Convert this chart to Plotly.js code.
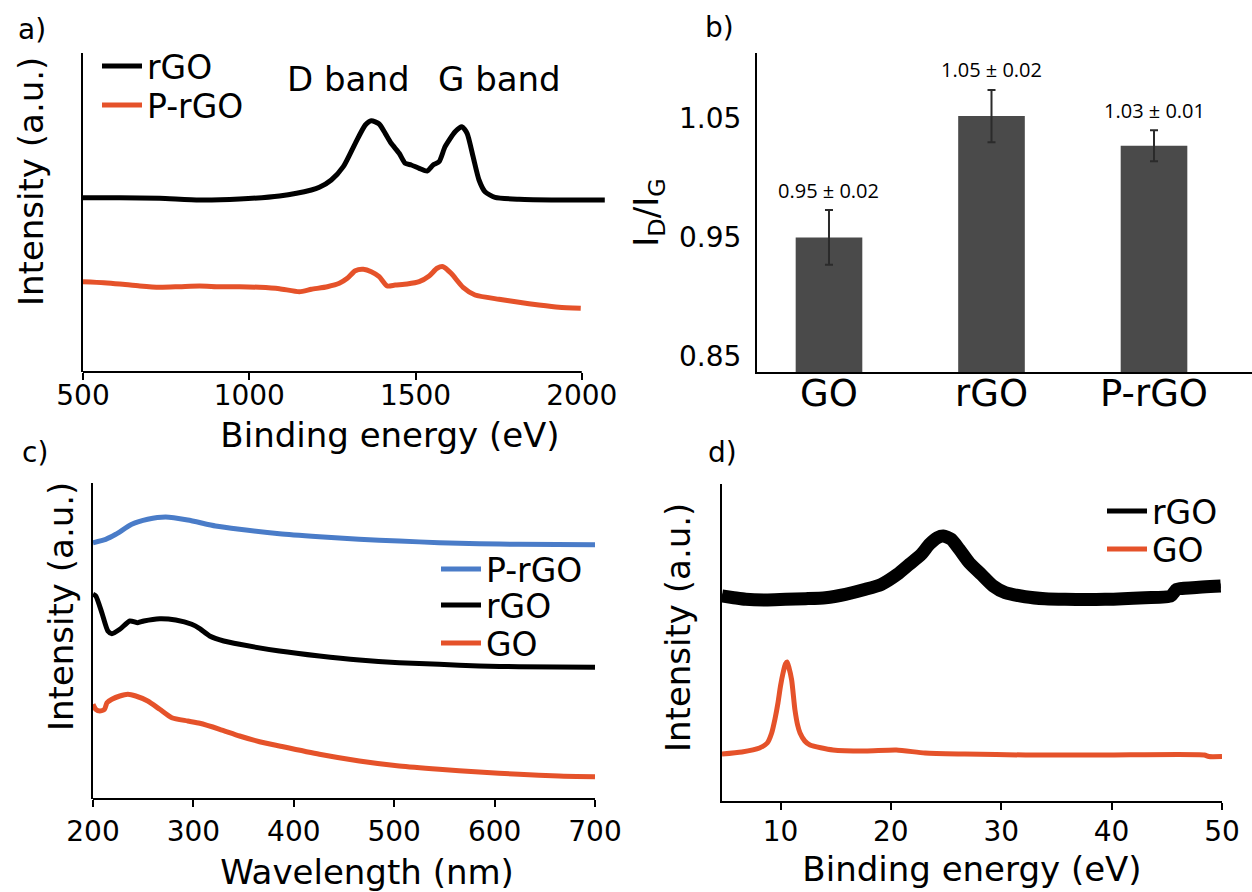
<!DOCTYPE html>
<html>
<head>
<meta charset="utf-8">
<script src="https://cdn.plot.ly/plotly-3.0.1.min.js"></script>
<style>html,body{margin:0;padding:0;background:#fff;}#chart{width:1252px;height:892px;}</style>
</head>
<body>
<div id="chart"></div>
<script>
// ---------- Panel a: Raman spectra ----------
const aEnergyRGO = [500, 610.6, 730.6, 850.7, 970.7, 1090.8, 1186.9, 1210.9, 1246.8, 1282.9, 1318.9, 1349.0, 1367.0, 1390.8, 1408.9, 1426.9, 1451.0, 1469.0, 1487.1, 1511.1, 1534.9, 1553.0, 1571.0, 1589.0, 1619.1, 1639.5, 1655.2, 1673.2, 1691.0, 1709.0, 1739.1, 1811.3, 1931.3, 1991.1, 2069.3];
const aIntRGO = [174.3, 174.3, 173.7, 172, 173, 176, 182, 184.7, 192, 205.3, 228.7, 247, 251.3, 248, 238.7, 228.7, 218.7, 208.7, 207, 203.7, 201, 207, 210.3, 225.3, 240.3, 245.3, 238.7, 215.3, 192, 180.3, 174.7, 172.7, 172, 172, 172];
const aEnergyPRGO = [500, 562.4, 610.6, 670.6, 730.6, 790.6, 850.7, 910.7, 970.7, 1030.8, 1090.8, 1150.8, 1186.9, 1234.9, 1270.8, 1294.9, 1318.9, 1343.0, 1367.0, 1390.8, 1414.9, 1438.9, 1475.0, 1511.1, 1541.0, 1565.0, 1583.0, 1607.1, 1643.0, 1679.0, 1751.1, 1811.3, 1871.1, 1931.3, 1997];
const aIntPRGO = [90.3, 89.3, 88, 86, 84.7, 85.3, 86, 85.3, 85.3, 84.7, 83.3, 80.3, 82.7, 85.3, 88.7, 93.7, 101.3, 102.7, 100.3, 95.3, 86, 87, 88, 90.3, 96, 103.7, 105.3, 98.7, 84.7, 77, 72.7, 69.7, 67, 64.7, 63.7];
const aTicks = [500, 1000, 1500, 2000];

// ---------- Panel b: ID/IG ratio ----------
const bCategories = ['GO', 'rGO', 'P-rGO'];
const bRatio = [0.95, 1.052, 1.027];
const bError = [0.023, 0.022, 0.013];
const bLabels = ['0.95 ± 0.02', '1.05 ± 0.02', '1.03 ± 0.01'];
const bTicks = [0.85, 0.95, 1.05];

// ---------- Panel c: UV-vis ----------
const cWavePRGO = [200, 212.7, 222.7, 238.6, 254.5, 272.4, 294.3, 322, 346, 385.7, 425.5, 465, 505, 544.7, 584.5, 624, 700];
const cIntPRGO = [256.3, 259.7, 264.7, 274.7, 279.7, 282, 279, 273, 269.7, 265.3, 262.3, 259.7, 258, 256.3, 255.3, 254.7, 254.3];
const cWaveRGO = [200, 202.8, 208.8, 214.8, 218.8, 226.7, 236.7, 244.6, 250.6, 266.5, 282.4, 298.3, 306.3, 316.2, 330.2, 346, 385.7, 425.5, 465.3, 505, 544.8, 584.5, 624.3, 700];
const cIntRGO = [204.7, 203, 186.3, 168, 165.3, 169.7, 178, 176.3, 178, 180.3, 179, 174.7, 170.3, 163, 158, 154.7, 148, 143, 139, 136.3, 134.7, 133, 132.3, 131.7];
const cWaveGO = [200, 202.8, 206.8, 211.5, 213.9, 218.8, 226.7, 234.7, 242.6, 254.5, 266.5, 278.5, 294.3, 306.3, 326.2, 346, 365.9, 385.7, 425.5, 465.3, 505, 544.8, 584.5, 624.3, 664, 700];
const cIntGO = [94.7, 89.7, 88, 89.7, 96.3, 99.7, 103, 104.7, 103, 98, 89.7, 81.3, 78, 75.7, 69.7, 63, 57.3, 53, 44.7, 38, 33, 29.7, 27, 24.7, 23, 22.3];
const cTicks = [200, 300, 400, 500, 600, 700];

// ---------- Panel d: binding energy ----------
const dEnergyRGO = [4.7, 5.77, 6.85, 8.66, 10.47, 12.28, 14.08, 15.89, 17.7, 19.15, 20.59, 21.68, 22.76, 23.49, 24.21, 24.75, 25.47, 26.2, 27.1, 28.19, 29.27, 30.36, 32.16, 33.97, 35.78, 39.4, 43.01, 45.36, 45.9, 47.35, 49.88];
const dIntRGO = [205, 203.3, 201.7, 201, 201.7, 202.3, 203.3, 206.7, 211.7, 216.7, 226.7, 236.7, 246.7, 256.7, 263.3, 265, 261.7, 251.7, 238.3, 226.7, 215, 208.3, 204.3, 202.3, 201.7, 201.7, 203.3, 205, 211.7, 213.3, 215];
const dEnergyGO = [4.7, 6.5, 8.1, 8.8, 9.2, 9.5, 9.77, 10.0, 10.23, 10.45, 10.6, 10.75, 11.01, 11.31, 11.55, 11.77, 12.2, 12.67, 14.75, 17.7, 20.5, 23.1, 26.7, 32.2, 39.4, 48.4, 48.8, 50];
const dIntGO = [47, 49, 53, 58, 68, 82, 98, 115, 128, 137, 139, 134, 121, 91, 76, 68, 60, 56, 51, 50, 51, 48, 47, 46, 46, 46, 44.5, 44.5];
const dTicks = [10, 20, 30, 40, 50];

// ---------- colours ----------
const BLACK = '#000000';
const ORANGE = '#e5522a';
const BLUE = '#4a7cc8';
const BAR = '#4a4a4a';
const FONT = 'DejaVu Sans';

const W = 1252, H = 892;
const px = v => v / W;
const py = v => 1 - v / H;

const traces = [
  {x: aEnergyRGO, y: aIntRGO, xaxis: 'x', yaxis: 'y', mode: 'lines', name: 'rGO', legend: 'legend', line: {color: BLACK, width: 5, shape: 'spline', smoothing: 0.6}},
  {x: aEnergyPRGO, y: aIntPRGO, xaxis: 'x', yaxis: 'y', mode: 'lines', name: 'P-rGO', legend: 'legend2', line: {color: ORANGE, width: 5, shape: 'spline', smoothing: 0.6}},
  {x: bCategories, y: bRatio, xaxis: 'x2', yaxis: 'y2', type: 'bar', name: 'ID/IG', showlegend: false, width: 0.41, marker: {color: BAR},
   error_y: {type: 'data', array: bError, visible: true, color: '#2b2b2b', thickness: 2, width: 4}},
  {x: cWavePRGO, y: cIntPRGO, xaxis: 'x3', yaxis: 'y3', mode: 'lines', name: 'P-rGO', legend: 'legend3', line: {color: BLUE, width: 5, shape: 'spline', smoothing: 0.6}},
  {x: cWaveRGO, y: cIntRGO, xaxis: 'x3', yaxis: 'y3', mode: 'lines', name: 'rGO', legend: 'legend4', line: {color: BLACK, width: 5, shape: 'spline', smoothing: 0.6}},
  {x: cWaveGO, y: cIntGO, xaxis: 'x3', yaxis: 'y3', mode: 'lines', name: 'GO', legend: 'legend5', line: {color: ORANGE, width: 5, shape: 'spline', smoothing: 0.6}},
  // noisy rGO band (thick), plus the same curve at normal width for the legend swatch
  {x: dEnergyRGO, y: dIntRGO, xaxis: 'x4', yaxis: 'y4', mode: 'lines', name: 'rGO band', showlegend: false, line: {color: BLACK, width: 13, shape: 'spline', smoothing: 0.6}},
  {x: dEnergyRGO, y: dIntRGO, xaxis: 'x4', yaxis: 'y4', mode: 'lines', name: 'rGO', legend: 'legend6', line: {color: BLACK, width: 5, shape: 'spline', smoothing: 0.6}},
  {x: dEnergyGO, y: dIntGO, xaxis: 'x4', yaxis: 'y4', mode: 'lines', name: 'GO', legend: 'legend7', line: {color: ORANGE, width: 5, shape: 'spline', smoothing: 0.6}}
];

const tickFont = {family: FONT, size: 28, color: '#000'};
const titleFont = {family: FONT, size: 34, color: '#000'};
const baseX = {showgrid: false, zeroline: false, showline: true, linecolor: '#000', linewidth: 2,
  ticks: 'outside', ticklen: 7, tickwidth: 2, tickcolor: '#000', tickfont: tickFont, fixedrange: true};
const baseY = {showgrid: false, zeroline: false, showline: true, linecolor: '#000', linewidth: 2,
  ticks: '', showticklabels: false, fixedrange: true};

function legendAt(x, y) {
  return {x: px(x), y: py(y), xanchor: 'left', yanchor: 'middle', bgcolor: 'rgba(0,0,0,0)', borderwidth: 0,
    font: {family: FONT, size: 33, color: '#000'}, itemwidth: 40};
}

// Panel a and c x-axis domains are widened to the right (beyond the drawn axis line) so that
// the axis titles sit where the reference puts them; the data-to-pixel scale is unchanged.
const layout = {
  width: W, height: H,
  margin: {l: 0, r: 0, t: 0, b: 0},
  paper_bgcolor: '#fff', plot_bgcolor: 'rgba(0,0,0,0)',
  font: {family: FONT, color: '#000'},
  showlegend: true,
  xaxis: Object.assign({}, baseX, {domain: [px(83), px(697)], range: [500, 500 + 614 / 0.3325], tickvals: aTicks, showline: false, anchor: 'y',
    ticklabelstandoff: -9, title: {text: 'Binding energy (eV)', font: titleFont, standoff: 12}}),
  yaxis: Object.assign({}, baseY, {domain: [py(372), py(53)], range: [0, 319], anchor: 'x'}),
  xaxis2: Object.assign({}, baseX, {domain: [px(757), 1], range: [-0.443, 2.603], type: 'category', ticks: '',
    tickfont: {family: FONT, size: 37, color: '#000'}, ticklabelstandoff: -12, anchor: 'y2'}),
  yaxis2: Object.assign({}, baseY, {domain: [py(372), py(53)], range: [0.837, 1.105], tickvals: bTicks, ticktext: ['0.85', '0.95', '1.05'],
    showticklabels: true, tickfont: tickFont, ticklabelstandoff: 8, anchor: 'x2',
    title: {text: 'I<sub>D</sub>/I<sub>G</sub>', font: titleFont, standoff: 10}}),
  xaxis3: Object.assign({}, baseX, {domain: [px(93), px(641)], range: [200, 200 + 548 / 1.004], tickvals: cTicks, showline: false, anchor: 'y3',
    title: {text: 'Wavelength (nm)', font: titleFont, standoff: 13}}),
  yaxis3: Object.assign({}, baseY, {domain: [py(799), py(483)], range: [0, 316], anchor: 'x3'}),
  xaxis4: Object.assign({}, baseX, {domain: [px(722), px(1222)], range: [4.7, 50], tickvals: dTicks, anchor: 'y4', ticklabelstandoff: -3,
    title: {text: 'Binding energy (eV)', font: titleFont, standoff: 11}}),
  yaxis4: Object.assign({}, baseY, {domain: [py(801), py(484)], range: [0, 317], anchor: 'x4'}),
  legend: legendAt(97, 66),
  legend2: legendAt(97, 105),
  legend3: legendAt(436, 569),
  legend4: legendAt(436, 605),
  legend5: legendAt(436, 643),
  legend6: legendAt(1102, 511),
  legend7: legendAt(1102, 549),
  shapes: [
    {type: 'line', xref: 'x', yref: 'y domain', x0: 500, x1: 2000, y0: 0, y1: 0, line: {color: '#000', width: 2}},
    {type: 'line', xref: 'x3', yref: 'y3 domain', x0: 200, x1: 700, y0: 0, y1: 0, line: {color: '#000', width: 2}}
  ],
  annotations: []
};

const ann = layout.annotations;
function label(text, x, y, size, opts) {
  ann.push(Object.assign({text: text, xref: 'paper', yref: 'paper', x: px(x), y: py(y), xanchor: 'center', yanchor: 'middle',
    showarrow: false, font: {family: FONT, size: size, color: '#000'}}, opts || {}));
}
// panel letters
label('a)', 32, 30, 28);
label('b)', 719, 28, 28);
label('c)', 35, 452, 28);
label('d)', 722, 453, 28);
// panel a band labels
label('D band', 348, 79, 34);
label('G band', 499, 79, 34);
// y-axis titles (placed where the reference puts them)
label('Intensity (a.u.)', 31, 182, 34, {textangle: -90});
label('Intensity (a.u.)', 61, 607, 34, {textangle: -90});
label('Intensity (a.u.)', 678, 628, 34, {textangle: -90});
// panel b value labels, anchored to the top of each error bar
bCategories.forEach((c, i) => {
  ann.push({text: bLabels[i], xref: 'x2', yref: 'y2', x: c, y: bRatio[i] + bError[i], xanchor: 'center', yanchor: 'middle',
    yshift: 20, showarrow: false, font: {family: 'Open Sans', size: 20, color: '#000'}});
});

Plotly.newPlot('chart', traces, layout, {displayModeBar: false, staticPlot: true});
</script>
</body>
</html>
